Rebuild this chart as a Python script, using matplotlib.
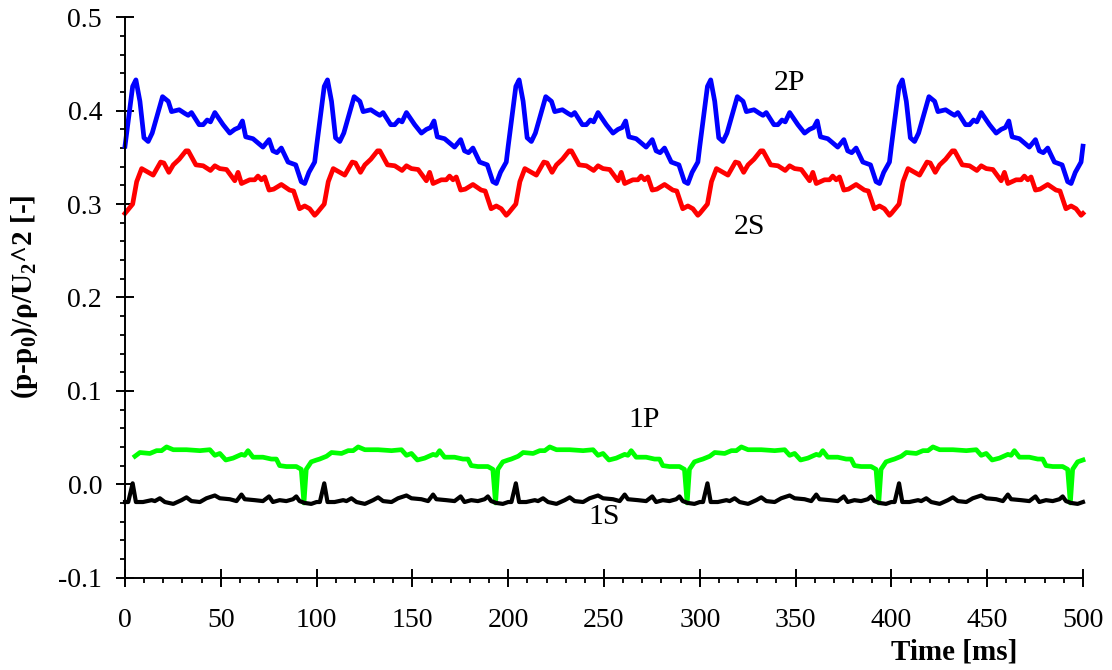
import numpy as np
import matplotlib
matplotlib.use("Agg")
import matplotlib.pyplot as plt
from matplotlib.ticker import MultipleLocator, FixedLocator

# ---- data: one 100 ms period (signal repeats every 100 ms) ----
period_ms = 100.0
n_periods = 5
t_end = 500.0

t_2p = [0, 4, 5.7, 7.8, 9.9, 12.1, 14.2, 19.6, 22.6, 24.3, 28.3, 31.3, 33, 34.7, 38.7,
        40.8, 42.9, 44.6, 46.9, 51.2, 54.7, 57.3, 59.5, 61.3, 63, 66.8, 72, 75.2, 77.2,
        79.3, 81.6, 85.1, 89.1, 92, 93.8, 96, 99]
v_2p = [0.362, 0.426, 0.433, 0.410, 0.371, 0.367, 0.376, 0.415, 0.410, 0.399, 0.401, 0.397,
        0.395, 0.398, 0.385, 0.385, 0.390, 0.388, 0.398, 0.385, 0.376, 0.380, 0.382, 0.389,
        0.372, 0.370, 0.361, 0.369, 0.357, 0.355, 0.360, 0.345, 0.342, 0.324, 0.322, 0.334,
        0.345]

t_2s = [0, 4, 6.1, 8.7, 12.1, 14.7, 18.6, 20.3, 22.9, 25.2, 28.3, 31.8, 33, 37, 40.8, 44.6,
        46.9, 49.5, 53, 57.3, 59, 60.8, 65.1, 67.7, 69.4, 71.2, 72.9, 75.2, 77.6, 81.6, 85.9,
        88, 91.1, 93.8, 96.4, 99]
v_2s = [0.290, 0.300, 0.324, 0.338, 0.334, 0.331, 0.345, 0.344, 0.334, 0.342, 0.348, 0.357,
        0.357, 0.342, 0.341, 0.336, 0.341, 0.338, 0.337, 0.325, 0.334, 0.322, 0.326, 0.326,
        0.330, 0.326, 0.329, 0.315, 0.316, 0.321, 0.315, 0.314, 0.295, 0.298, 0.295, 0.288]

t_1p = [0, 1.6, 5.2, 7.8, 13, 16.5, 19.1, 21.7, 25.2, 32.1, 39.1, 44.3, 46.9, 49.5, 52.6,
        56.4, 60.8, 62.5, 64.2, 66.8, 72, 76.4, 79, 80.7, 84.2, 89.4, 92, 93.4, 94.6, 97.2]
v_1p = [0.026, 0.027, 0.030, 0.034, 0.033, 0.036, 0.036, 0.040, 0.037, 0.037, 0.036, 0.037,
        0.031, 0.033, 0.026, 0.028, 0.032, 0.031, 0.036, 0.029, 0.029, 0.027, 0.027, 0.020,
        0.019, 0.019, 0.016, -0.020, 0.016, 0.024]
t_1p_start = 5.0

t_1s = [0, 1.7, 4, 5.7, 9.4, 13.9, 15.6, 18.2, 20.8, 25.2, 29.5, 32.1, 34.7, 39.1, 42.5,
        46.9, 49.5, 54.7, 58.2, 60.8, 62.5, 67.7, 72, 75.2, 77.2, 80.7, 84.2, 87.7, 89.4,
        91.1, 93.8, 97.2]
v_1s = [-0.019, -0.019, 0.001, -0.019, -0.019, -0.017, -0.018, -0.015, -0.019, -0.021,
        -0.017, -0.014, -0.018, -0.019, -0.015, -0.012, -0.015, -0.016, -0.018, -0.011,
        -0.016, -0.017, -0.018, -0.013, -0.019, -0.017, -0.018, -0.016, -0.013, -0.018,
        -0.020, -0.021]

series_names = ["2P", "2S", "1P", "1S"]
series_colors = ["#0000ff", "#ff0000", "#00ff00", "#000000"]

x_ticks = [0, 50, 100, 150, 200, 250, 300, 350, 400, 450, 500]
y_ticks = [-0.1, 0.0, 0.1, 0.2, 0.3, 0.4, 0.5]
y_tick_labels = ["-0.1", "0.0", "0.1", "0.2", "0.3", "0.4", "0.5"]

label_pos = {"2P": (347, 0.430), "2S": (326, 0.275), "1P": (271, 0.069), "1S": (250, -0.035)}


def repeat_period(t, v, start=0.0):
    tt = np.concatenate([np.asarray(t) + k * period_ms for k in range(n_periods + 1)])
    vv = np.concatenate([np.asarray(v) for _ in range(n_periods + 1)])
    m = (tt <= t_end) & (tt >= start)
    return tt[m], vv[m]


plt.rcParams["font.family"] = ["Liberation Serif", "DejaVu Serif"]
plt.rcParams["axes.unicode_minus"] = False
plt.rcParams["mathtext.fontset"] = "custom"
plt.rcParams["mathtext.rm"] = "Liberation Serif"
plt.rcParams["mathtext.it"] = "Liberation Serif:italic"
plt.rcParams["mathtext.bf"] = "Liberation Serif:bold"

fig = plt.figure(figsize=(11.12, 6.70), dpi=100)
ax = fig.add_axes([0.1124, 0.1378, 0.8615, 0.8364])

data = [(t_2p, v_2p, 0.0, 3.4), (t_2s, v_2s, 0.0, 3.4),
        (t_1p, v_1p, t_1p_start, 3.4), (t_1s, v_1s, 0.0, 3.0)]
for (t, v, st, lw), name, col in zip(data, series_names, series_colors):
    tt, vv = repeat_period(t, v, st)
    ax.plot(tt, vv, color=col, lw=lw, solid_joinstyle="round", clip_on=False)
    ax.text(label_pos[name][0], label_pos[name][1], name, fontsize=21.5,
            ha="center", va="center")

ax.set_xlim(0, 500)
ax.set_ylim(-0.1, 0.5)
ax.spines["top"].set_visible(False)
ax.spines["right"].set_visible(False)
for s in ("left", "bottom"):
    ax.spines[s].set_linewidth(1.4)

ax.xaxis.set_major_locator(FixedLocator(x_ticks))
ax.xaxis.set_minor_locator(MultipleLocator(10))
ax.yaxis.set_major_locator(FixedLocator(y_ticks))
ax.set_yticklabels(y_tick_labels)
ax.yaxis.set_minor_locator(MultipleLocator(0.02))

ax.tick_params(which="major", direction="inout", length=13, width=1.4, labelsize=20)
ax.tick_params(which="minor", direction="out", length=3.8, width=1.3)
ax.tick_params(axis="x", which="major", pad=15)
ax.tick_params(axis="y", which="major", pad=10)

fig.text(954 / 1112, 1 - 652 / 670, "Time [ms]", fontsize=21, fontweight="bold",
         ha="center", va="center")
fig.text(25 / 1112, 1 - 297 / 670, r"(p-p$_\mathbf{0}$)/ρ/U$_\mathbf{2}$^2 [-]",
         fontsize=21, fontweight="bold", rotation=90, ha="center", va="center")

fig.savefig("out.png", dpi=100)
